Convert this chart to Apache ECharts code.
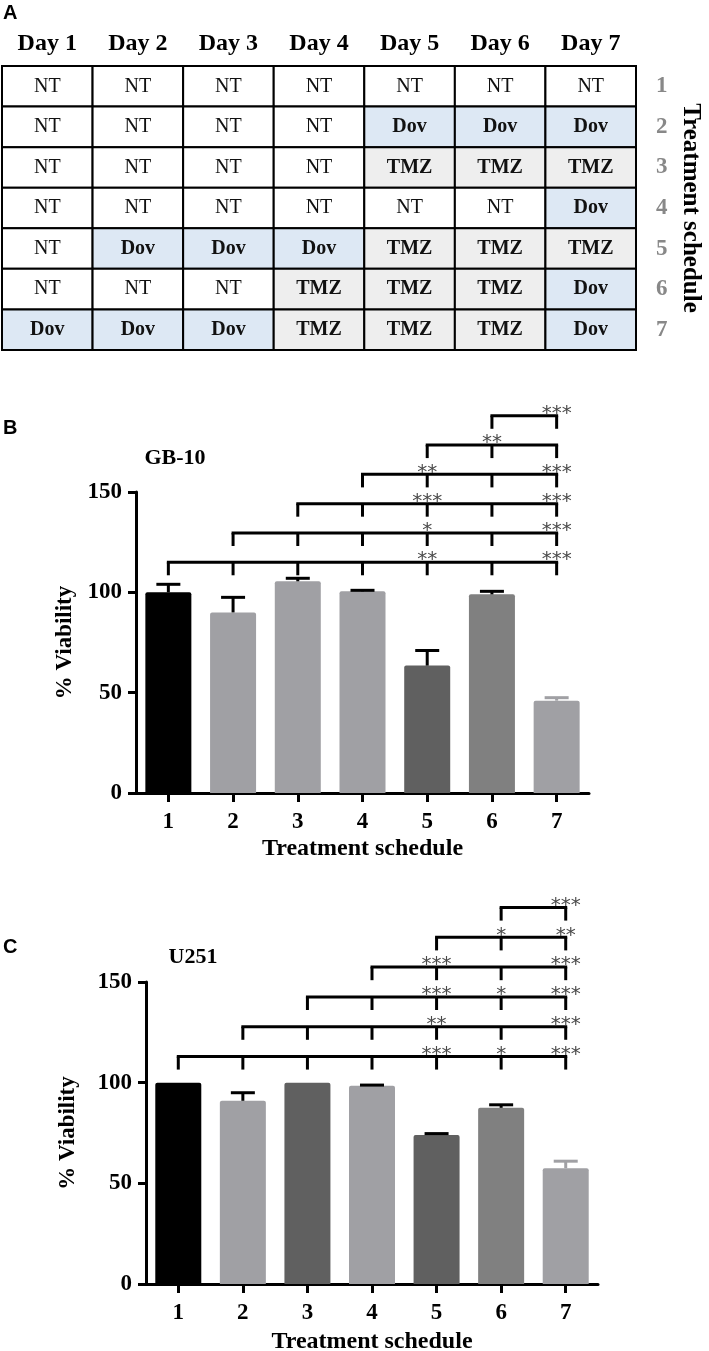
<!DOCTYPE html>
<html><head><meta charset="utf-8">
<script src="https://cdn.jsdelivr.net/npm/echarts@6/dist/echarts.min.js"></script>
<style>html,body{margin:0;padding:0;background:#fff}#c{width:709px;height:1351px}</style>
</head><body><div id="c"></div>
<script>
// ---------- data ----------
const days = ['Day 1', 'Day 2', 'Day 3', 'Day 4', 'Day 5', 'Day 6', 'Day 7'];
const scheduleLabels = ['1', '2', '3', '4', '5', '6', '7'];
const tableRows = [
  ['NT', 'NT', 'NT', 'NT', 'NT', 'NT', 'NT'],
  ['NT', 'NT', 'NT', 'NT', 'Dov', 'Dov', 'Dov'],
  ['NT', 'NT', 'NT', 'NT', 'TMZ', 'TMZ', 'TMZ'],
  ['NT', 'NT', 'NT', 'NT', 'NT', 'NT', 'Dov'],
  ['NT', 'Dov', 'Dov', 'Dov', 'TMZ', 'TMZ', 'TMZ'],
  ['NT', 'NT', 'NT', 'TMZ', 'TMZ', 'TMZ', 'Dov'],
  ['Dov', 'Dov', 'Dov', 'TMZ', 'TMZ', 'TMZ', 'Dov']
];
const categories = ['1', '2', '3', '4', '5', '6', '7'];
const gb10Values = [100, 90, 105.5, 100.5, 63.5, 99, 46];
const gb10Errors = [4, 7.5, 1.5, 0.5, 7.5, 1.5, 1.5];
const u251Values = [100, 91, 100, 98.5, 74, 87.5, 57.5];
const u251Errors = [0, 4, 0, 0.3, 0.7, 1.5, 3.5];
// significance: bracket i compares group i with groups i+1..7
const gb10Sig = [
  ['', '', '', '**', '', '***'],
  ['', '', '*', '', '***'],
  ['', '***', '', '***'],
  ['**', '', '***'],
  ['**', ''],
  ['***']
];
const u251Sig = [
  ['', '', '', '***', '*', '***'],
  ['', '', '**', '', '***'],
  ['', '***', '*', '***'],
  ['***', '', '***'],
  ['*', '**'],
  ['***']
];

// ---------- styles ----------
const SERIF = '"Liberation Serif", "Times New Roman", serif';
const SANS = '"Liberation Sans", Arial, sans-serif';
const cellFill = { NT: '#ffffff', Dov: '#dde8f4', TMZ: '#eeeeee' };
const gb10Colors = ['#000000', '#a0a0a4', '#a0a0a4', '#a0a0a4', '#606060', '#808080', '#a0a0a4'];
const u251Colors = ['#000000', '#a0a0a4', '#606060', '#a0a0a4', '#606060', '#808080', '#a0a0a4'];
const gb10ErrColors = ['#000', '#000', '#000', '#000', '#000', '#000', '#a0a0a4'];
const u251ErrColors = ['#000', '#000', '#000', '#000', '#000', '#000', '#a0a0a4'];

const chart = echarts.init(document.getElementById('c'), null, { renderer: 'canvas' });

const tableData = [];
tableRows.forEach((row, r) => row.forEach((v, c) => tableData.push([c, r])));

function barSeries(axisIdx, values, colors) {
  return {
    type: 'bar', xAxisIndex: axisIdx, yAxisIndex: axisIdx, barWidth: 46,
    data: values.map((v, i) => ({ value: v, itemStyle: { color: colors[i], borderRadius: [2, 2, 0, 0] } })),
    z: 2
  };
}
function errSeries(axisIdx, values, errs, colors) {
  return {
    type: 'custom', xAxisIndex: axisIdx, yAxisIndex: axisIdx, z: 3,
    data: values.map((v, i) => [i, v, errs[i]]),
    renderItem(params, api) {
      const i = api.value(0), v = api.value(1), e = api.value(2);
      if (!e) return null;
      const b = api.coord([i, v]), t = api.coord([i, v + e]);
      const st = { stroke: colors[i], lineWidth: 3 };
      return { type: 'group', children: [
        { type: 'line', shape: { x1: b[0], y1: b[1], x2: t[0], y2: t[1] }, style: st },
        { type: 'line', shape: { x1: t[0] - 12, y1: t[1], x2: t[0] + 12, y2: t[1] }, style: st }
      ] };
    }
  };
}
function bracketSeries(axisIdx, sig, base, step) {
  return {
    type: 'custom', xAxisIndex: axisIdx, yAxisIndex: axisIdx, z: 4, clip: false,
    data: sig.map((s, i) => [i, base + i * step]),
    renderItem(params, api) {
      const from = api.value(0), lvl = api.value(1);
      const last = categories.length - 1;
      const p0 = api.coord([from, lvl]), p1 = api.coord([last, lvl]);
      const tickEnd = api.coord([from, lvl - 6.5])[1];
      const st = { stroke: '#000', lineWidth: 3 };
      const ch = [{ type: 'line', shape: { x1: p0[0] - 1.5, y1: p0[1], x2: p1[0] + 1.5, y2: p1[1] }, style: st }];
      for (let j = from; j <= last; j++) {
        const x = api.coord([j, lvl])[0];
        ch.push({ type: 'line', shape: { x1: x, y1: p0[1], x2: x, y2: tickEnd }, style: st });
      }
      sig[from].forEach((s, k) => {
        if (!s) return;
        const x = api.coord([from + 1 + k, lvl])[0];
        ch.push({ type: 'text', z2: 10, style: { x: x, y: p0[1] - 2, text: s, align: 'center', verticalAlign: 'middle',
          font: '20px "DejaVu Sans", sans-serif', fill: '#4a4a4a' } });
      });
      return { type: 'group', children: ch };
    }
  };
}

const valueAxis = (gi, nameGap) => ({
  gridIndex: gi, type: 'value', min: 0, max: 150, interval: 50,
  axisLine: { show: true, lineStyle: { color: '#000', width: 3 } },
  axisTick: { show: true, length: 8, lineStyle: { color: '#000', width: 3 } },
  splitLine: { show: false },
  axisLabel: { margin: 14, fontSize: 23, fontWeight: 'bold', fontFamily: SERIF, color: '#000' },
  name: '% Viability', nameLocation: 'middle', nameRotate: 90, nameGap: nameGap,
  nameTextStyle: { fontSize: 23, fontWeight: 'bold', fontFamily: SERIF, color: '#000' }
});
const catAxis = (gi, nameGap) => ({
  gridIndex: gi, type: 'category', data: categories,
  axisLine: { show: true, lineStyle: { color: '#000', width: 3 } },
  axisTick: { show: true, alignWithLabel: true, length: 9, lineStyle: { color: '#000', width: 3 } },
  axisLabel: { margin: 18, fontSize: 23, fontWeight: 'bold', fontFamily: SERIF, color: '#000' },
  name: 'Treatment schedule', nameLocation: 'middle', nameGap: nameGap,
  nameTextStyle: { fontSize: 24, fontWeight: 'bold', fontFamily: SERIF, color: '#000' }
});

const option = {
  animation: false,
  backgroundColor: '#ffffff',
  grid: [
    { left: 2, top: 66, width: 634, height: 284, outerBoundsMode: 'none', containLabel: false },
    { left: 136, top: 492, width: 453, height: 301, outerBoundsMode: 'none', containLabel: false },
    { left: 146, top: 982, width: 452, height: 302, outerBoundsMode: 'none', containLabel: false }
  ],
  xAxis: [
    { gridIndex: 0, type: 'category', data: days, position: 'top',
      axisLine: { show: false }, axisTick: { show: false },
      axisLabel: { margin: 10, fontSize: 24, fontWeight: 'bold', fontFamily: SERIF, color: '#000' } },
    catAxis(1, 44),
    catAxis(2, 46)
  ],
  yAxis: [
    { gridIndex: 0, type: 'category', data: scheduleLabels, inverse: true, position: 'right',
      axisLine: { show: false }, axisTick: { show: false }, splitLine: { show: false },
      axisLabel: { margin: 20, fontSize: 23, fontWeight: 'bold', fontFamily: SERIF, color: '#888888' },
      name: 'Treatment schedule', nameLocation: 'middle', nameRotate: -90, nameGap: 42,
      nameTextStyle: { fontSize: 25, fontWeight: 'bold', fontFamily: SERIF, color: '#000' } },
    valueAxis(1, 56),
    valueAxis(2, 66)
  ],
  graphic: [
    { type: 'text', left: 3, top: 3, style: { text: 'A', font: 'bold 20px ' + SANS, fill: '#000' } },
    { type: 'text', left: 3, top: 418, style: { text: 'B', font: 'bold 20px ' + SANS, fill: '#000' } },
    { type: 'text', left: 3, top: 937, style: { text: 'C', font: 'bold 20px ' + SANS, fill: '#000' } },
    { type: 'text', x: 175, y: 458, style: { text: 'GB-10', font: 'bold 22px ' + SERIF, fill: '#000', align: 'center', verticalAlign: 'middle' } },
    { type: 'text', x: 193, y: 957, style: { text: 'U251', font: 'bold 22px ' + SERIF, fill: '#000', align: 'center', verticalAlign: 'middle' } }
  ],
  series: [
    {
      type: 'custom', xAxisIndex: 0, yAxisIndex: 0, data: tableData,
      renderItem(params, api) {
        const c = api.value(0), r = api.value(1);
        const p = api.coord([c, r]), s = api.size([1, 1]);
        const txt = tableRows[r][c];
        return { type: 'group', children: [
          { type: 'rect', shape: { x: p[0] - s[0] / 2, y: p[1] - s[1] / 2, width: s[0], height: s[1] },
            style: { fill: cellFill[txt], stroke: '#000', lineWidth: 2 } },
          { type: 'text', style: { x: p[0], y: p[1], text: txt, align: 'center', verticalAlign: 'middle',
            font: (txt === 'NT' ? '' : 'bold ') + '20px ' + SERIF, fill: '#111' } }
        ] };
      }
    },
    barSeries(1, gb10Values, gb10Colors),
    errSeries(1, gb10Values, gb10Errors, gb10ErrColors),
    bracketSeries(1, gb10Sig, 115, 14.6),
    barSeries(2, u251Values, u251Colors),
    errSeries(2, u251Values, u251Errors, u251ErrColors),
    bracketSeries(2, u251Sig, 113, 14.8)
  ]
};
chart.setOption(option);
</script></body></html>
